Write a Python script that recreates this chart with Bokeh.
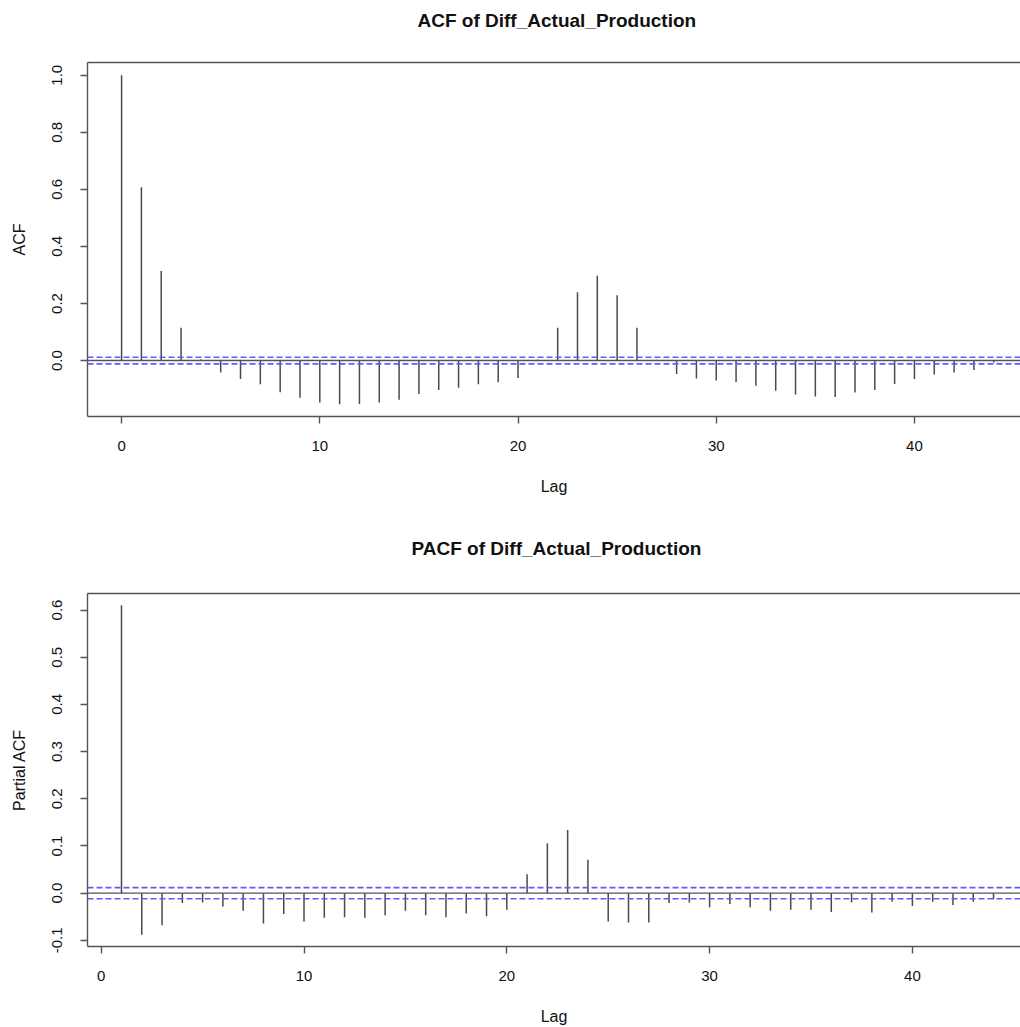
from bokeh.plotting import figure
from bokeh.layouts import column
from bokeh.models import Range1d, FixedTicker, LinearAxis, Span, PrintfTickFormatter
from bokeh.embed import file_html
from bokeh.resources import INLINE

# ---------------- data ----------------
acf_lags = list(range(0, 45))
acf_values = [1.000, 0.607, 0.314, 0.115, 0.004, -0.042, -0.065, -0.083, -0.111, -0.130,
              -0.147, -0.153, -0.152, -0.147, -0.137, -0.117, -0.103, -0.095, -0.083, -0.076,
              -0.061, 0.003, 0.115, 0.239, 0.297, 0.229, 0.115, 0.003, -0.047, -0.063,
              -0.070, -0.075, -0.088, -0.106, -0.119, -0.126, -0.128, -0.112, -0.103, -0.082,
              -0.065, -0.049, -0.042, -0.033, -0.007]

pacf_lags = list(range(1, 45))
pacf_values = [0.610, -0.088, -0.068, -0.021, -0.020, -0.028, -0.037, -0.064, -0.044, -0.060,
               -0.052, -0.051, -0.052, -0.047, -0.037, -0.047, -0.051, -0.043, -0.049, -0.035,
               0.040, 0.106, 0.134, 0.071, -0.060, -0.062, -0.062, -0.021, -0.020, -0.030,
               -0.023, -0.030, -0.037, -0.035, -0.035, -0.040, -0.020, -0.041, -0.018, -0.027,
               -0.018, -0.025, -0.018, -0.013]

conf_bound = 0.0117

x_ticks = [0, 10, 20, 30, 40]
acf_y_ticks = [0.0, 0.2, 0.4, 0.6, 0.8, 1.0]
pacf_y_ticks = [-0.1, 0.0, 0.1, 0.2, 0.3, 0.4, 0.5, 0.6]

acf_title = "ACF of Diff_Actual_Production"
pacf_title = "PACF of Diff_Actual_Production"
x_label = "Lag"
acf_y_label = "ACF"
pacf_y_label = "Partial ACF"

# ---------------- style ----------------
FONT = "Liberation Sans"
BOX = "#555555"
STEM = "#4a4a4a"
BLUE = "#5c5cff"


def make_panel(lags, vals, title, ylabel, xr, yr, yticks, height, b_top, b_bottom,
               t_offset, top_gap, t_standoff):
    p = figure(width=1020, height=height, x_range=Range1d(*xr), y_range=Range1d(*yr),
               output_backend="svg", toolbar_location=None,
               min_border_left=87, min_border_right=0,
               min_border_top=b_top, min_border_bottom=b_bottom,
               x_axis_location=None, y_axis_location=None)
    p.outline_line_color = None
    p.xgrid.visible = False
    p.ygrid.visible = False
    p.background_fill_color = "white"
    p.border_fill_color = "white"

    # axes
    xa = LinearAxis(ticker=FixedTicker(ticks=x_ticks), axis_label=x_label)
    ya = LinearAxis(ticker=FixedTicker(ticks=yticks), axis_label=ylabel,
                    formatter=PrintfTickFormatter(format="%.1f"))
    top = LinearAxis(ticker=FixedTicker(ticks=[]), major_label_text_font_size="0px")
    for ax in (xa, ya, top):
        ax.axis_line_color = BOX
        ax.axis_line_width = 1.4
        ax.major_tick_line_color = BOX
        ax.major_tick_line_width = 1.4
        ax.major_tick_in = 0
        ax.major_tick_out = 7
        ax.minor_tick_in = 0
        ax.minor_tick_out = 0
        ax.major_label_text_font = FONT
        ax.major_label_text_font_size = "15px"
        ax.major_label_text_color = "#111111"
        ax.axis_label_text_font = FONT
        ax.axis_label_text_font_size = "16px"
        ax.axis_label_text_font_style = "normal"
        ax.axis_label_text_color = "#111111"
    # top border: an axis line only; an invisible label spaces the title upward
    top.major_tick_line_color = None
    top.major_tick_out = 0
    top.major_label_text_font_size = "0px"
    top.axis_label = "."
    top.axis_label_text_alpha = 0
    top.axis_label_standoff = top_gap
    xa.major_label_standoff = 17
    xa.axis_label_standoff = 24
    ya.major_label_standoff = 18
    ya.axis_label_standoff = 22
    ya.major_label_orientation = "vertical"
    p.add_layout(xa, "below")
    p.add_layout(ya, "left")
    p.add_layout(top, "above")

    # zero line and confidence bounds
    p.add_layout(Span(location=0, dimension="width", line_color=BOX, line_width=1.4))
    for c in (conf_bound, -conf_bound):
        p.add_layout(Span(location=c, dimension="width", line_color=BLUE,
                          line_width=1.6, line_dash="6 3"))

    # stems
    p.segment(x0=lags, y0=[0] * len(lags), x1=lags, y1=vals, line_color=STEM, line_width=1.5)

    p.title.text = title
    p.title.align = "left"
    p.title.offset = t_offset
    p.title.text_font = FONT
    p.title.text_font_size = "19px"
    p.title.text_font_style = "bold"
    p.title.text_color = "#111111"
    p.title.standoff = t_standoff
    return p


p1 = make_panel(acf_lags, acf_values, acf_title, acf_y_label,
                (-1.72, 45.35), (-0.196, 1.0445), acf_y_ticks, 514, 62, 98, 330, 11, 12)
p2 = make_panel(pacf_lags, pacf_values, pacf_title, pacf_y_label,
                (-0.676, 45.33), (-0.113, 0.635), pacf_y_ticks, 513, 79, 81, 324, 15, 10)

layout = column(p1, p2, spacing=0)
open("out.html", "w").write(file_html(layout, INLINE))
